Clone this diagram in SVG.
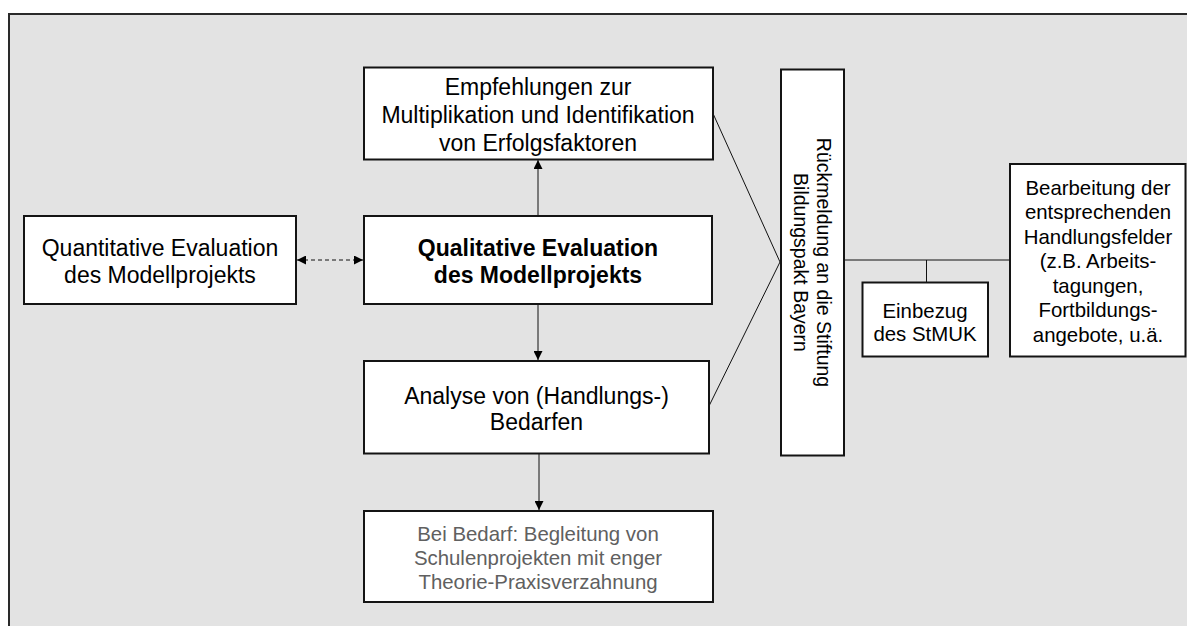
<svg xmlns="http://www.w3.org/2000/svg" width="1187" height="626" viewBox="0 0 1187 626">
<style>
.box{fill:#fff;stroke:#141414;stroke-width:2}
.t{font-family:"Liberation Sans",Arial,sans-serif;font-size:23px;fill:#000;text-anchor:middle}
.s{font-size:20.4px}
.v{font-size:19.5px}
.b{font-weight:bold}
.g{fill:#606060}
.ln{stroke:#111;stroke-width:1;fill:none}
</style>
<defs>
<marker id="ah" viewBox="0 0 10 10" refX="10" refY="5" markerWidth="10" markerHeight="9" markerUnits="userSpaceOnUse" orient="auto-start-reverse">
<path d="M0,0 L10,5 L0,10 z" fill="#000"/>
</marker>
</defs>
<rect width="1187" height="626" fill="#fff"/>
<rect x="9" y="14" width="1200" height="700" fill="#e3e3e3" stroke="#2a2a2a" stroke-width="2"/>
<g id="connectors">
<line x1="538" y1="216" x2="538" y2="160" class="ln" stroke="#444" marker-end="url(#ah)"/>
<line x1="538" y1="304" x2="538" y2="360" class="ln" stroke-width="2" marker-end="url(#ah)"/>
<line x1="539" y1="453.5" x2="539" y2="510" class="ln" marker-end="url(#ah)"/>
<line x1="297" y1="260" x2="363" y2="260" class="ln" stroke-dasharray="4,3" marker-start="url(#ah)" marker-end="url(#ah)"/>
<polyline points="713,113.5 780,262 709.5,405" class="ln"/>
<line x1="844" y1="260" x2="1010" y2="260" class="ln"/>
<line x1="926.5" y1="260" x2="926.5" y2="282.5" class="ln"/>
</g>
<g id="quantitative">
<rect class="box" x="24" y="216" width="272" height="88"/>
<text class="t" x="160" y="256">Quantitative Evaluation</text>
<text class="t" x="160" y="282.5">des Modellprojekts</text>
</g>
<g id="empfehlungen">
<rect class="box" x="364" y="67.5" width="349" height="92"/>
<text class="t" x="538" y="95">Empfehlungen zur</text>
<text class="t" x="538" y="123">Multiplikation und Identifikation</text>
<text class="t" x="538" y="151">von Erfolgsfaktoren</text>
</g>
<g id="qualitative">
<rect class="box" x="364" y="216" width="348" height="88"/>
<text class="t b" x="538" y="256">Qualitative Evaluation</text>
<text class="t b" x="538" y="283">des Modellprojekts</text>
</g>
<g id="analyse">
<rect class="box" x="364" y="361" width="345" height="92.5"/>
<text class="t" x="536.5" y="403.5">Analyse von (Handlungs-)</text>
<text class="t" x="536.5" y="430">Bedarfen</text>
</g>
<g id="begleitung">
<rect class="box" x="364" y="511" width="349" height="91"/>
<text class="t s g" x="538" y="541">Bei Bedarf: Begleitung von</text>
<text class="t s g" x="538" y="565">Schulenprojekten mit enger</text>
<text class="t s g" x="538" y="589">Theorie-Praxisverzahnung</text>
</g>
<g id="rueckmeldung">
<rect class="box" x="781" y="69.5" width="63" height="386"/>
<text class="t v" transform="translate(817,262.5) rotate(90)">Rückmeldung an die Stiftung</text>
<text class="t v" transform="translate(794,262.5) rotate(90)">Bildungspakt Bayern</text>
</g>
<g id="einbezug">
<rect class="box" x="862.5" y="282.5" width="125.5" height="74"/>
<text class="t s" x="925" y="317.5">Einbezug</text>
<text class="t s" x="925" y="340.5">des StMUK</text>
</g>
<g id="bearbeitung">
<rect class="box" x="1010" y="164" width="175.5" height="192.5"/>
<text class="t s" x="1098" y="194.5">Bearbeitung der</text>
<text class="t s" x="1098" y="219">entsprechenden</text>
<text class="t s" x="1098" y="243.5">Handlungsfelder</text>
<text class="t s" x="1098" y="268">(z.B. Arbeits-</text>
<text class="t s" x="1098" y="292.5">tagungen,</text>
<text class="t s" x="1098" y="317">Fortbildungs-</text>
<text class="t s" x="1098" y="341.5">angebote, u.ä.</text>
</g>
</svg>
